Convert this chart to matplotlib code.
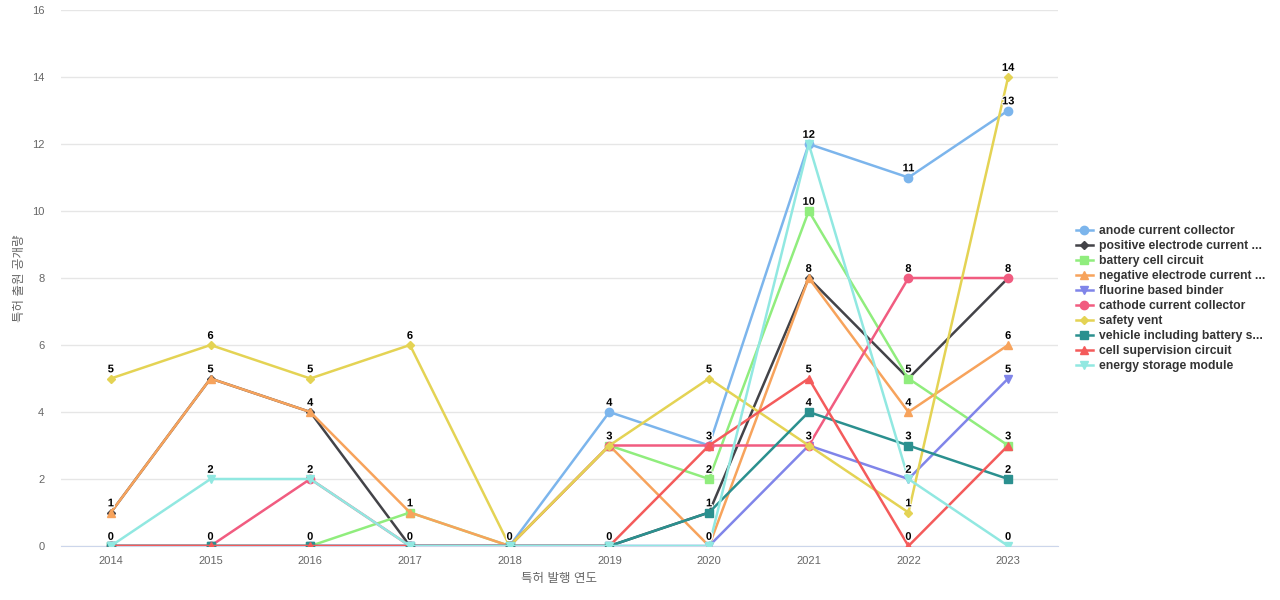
import matplotlib
matplotlib.use("Agg")
import matplotlib.pyplot as plt
import matplotlib.patheffects as pe

plt.rcParams['font.family'] = ['Liberation Sans', 'Noto Sans CJK KR', 'DejaVu Sans']

years = ['2014', '2015', '2016', '2017', '2018', '2019', '2020', '2021', '2022', '2023']

anode_current_collector = [0, 0, 0, 0, 0, 4, 3, 12, 11, 13]
positive_electrode_current = [1, 5, 4, 0, 0, 0, 1, 8, 5, 8]
battery_cell_circuit = [0, 0, 0, 1, 0, 3, 2, 10, 5, 3]
negative_electrode_current = [1, 5, 4, 1, 0, 3, 0, 8, 4, 6]
fluorine_based_binder = [0, 0, 0, 0, 0, 0, 0, 3, 2, 5]
cathode_current_collector = [0, 0, 2, 0, 0, 3, 3, 3, 8, 8]
safety_vent = [5, 6, 5, 6, 0, 3, 5, 3, 1, 14]
vehicle_battery = [0, 0, 0, 0, 0, 0, 1, 4, 3, 2]
cell_supervision_circuit = [0, 0, 0, 0, 0, 0, 3, 5, 0, 3]
energy_storage_module = [0, 2, 2, 0, 0, 0, 0, 12, 2, 0]

series = [
    ('anode current collector', anode_current_collector, '#7cb5ec', 'o'),
    ('positive electrode current ...', positive_electrode_current, '#434348', 'D'),
    ('battery cell circuit', battery_cell_circuit, '#90ed7d', 's'),
    ('negative electrode current ...', negative_electrode_current, '#f7a35c', '^'),
    ('fluorine based binder', fluorine_based_binder, '#8085e9', 'v'),
    ('cathode current collector', cathode_current_collector, '#f15c80', 'o'),
    ('safety vent', safety_vent, '#e4d354', 'D'),
    ('vehicle including battery s...', vehicle_battery, '#2b908f', 's'),
    ('cell supervision circuit', cell_supervision_circuit, '#f45b5b', '^'),
    ('energy storage module', energy_storage_module, '#91e8e1', 'v'),
]

fig = plt.figure(figsize=(12.8, 6), dpi=100)
ax = fig.add_axes([61/1280, 54/600, 997/1280, 536/600])

x = list(range(len(years)))
for name, vals, color, mk in series:
    ms = 4.5 if mk == 'D' else 6
    ax.plot(x, vals, color=color, lw=1.8, marker=mk, markersize=ms, label=name, zorder=3)

# data labels
for name, vals, color, mk in series:
    for xi, v in zip(x, vals):
        ax.annotate(str(v), (xi, v), xytext=(0, 3), textcoords='offset points',
                    ha='center', va='bottom', fontsize=8, fontweight='bold', color='black',
                    path_effects=[pe.withStroke(linewidth=1.5, foreground='white')], zorder=5)

ax.set_xlim(-0.5, len(years) - 0.5)
ax.set_ylim(0, 16)
ax.set_yticks(range(0, 17, 2))
ax.set_xticks(x)
ax.set_xticklabels(years)
ax.grid(axis='y', color='#e6e6e6', lw=1)
ax.set_axisbelow(True)
for s in ['top', 'right', 'left']:
    ax.spines[s].set_visible(False)
ax.spines['bottom'].set_color('#ccd6eb')
ax.tick_params(axis='both', length=0, labelsize=8, colors='#666666')
ax.tick_params(axis='x', pad=7)
ax.tick_params(axis='y', pad=12)
ax.set_xlabel('특허 발행 연도', fontsize=9, color='#666666')
ax.xaxis.set_label_coords(498/997, -27/536)
ax.set_ylabel('특허 출원 공개량', fontsize=9, color='#666666')
ax.yaxis.set_label_coords(-35/997, 0.5)

leg = fig.legend(loc='upper left', bbox_to_anchor=(1076/1280, 1 - 225/600), frameon=False,
                 prop={'size': 8.7, 'weight': 'bold'}, labelspacing=0.25, handlelength=1.4,
                 handletextpad=0.5, borderpad=0, borderaxespad=0)
for t in leg.get_texts():
    t.set_color('#333333')

fig.savefig('out.png', dpi=100)
